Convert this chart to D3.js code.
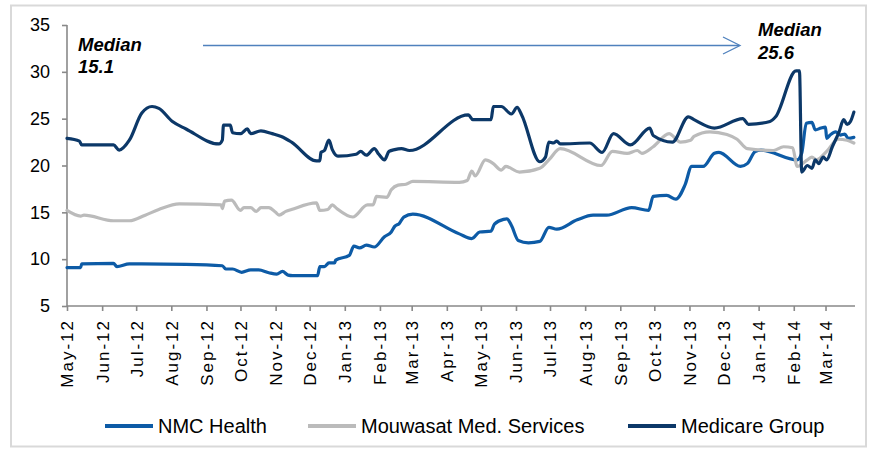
<!DOCTYPE html>
<html lang="en">
<head>
<meta charset="UTF-8">
<title>P/E multiples</title>
<script src="https://d3js.org/d3.v7.min.js"></script>
<style>
    body { margin: 0; background: #fff; }
    svg { font-family: "Liberation Sans", Arial, sans-serif; }
    .axis path, .axis line { stroke: #898989; stroke-width: 1.6px; }
    .axis text { fill: #000; }
    .series { fill: none; stroke-width: 3.2px; stroke-linejoin: round; stroke-linecap: round; }
    .note { font-weight: bold; font-style: italic; font-size: 18.5px; }
</style>
</head>
<body>
<svg id="chart" width="870" height="451"></svg>
<script>
    // values (date, multiple)
    const nmcHealth = [
        ["2012-05-01", 9.1], ["2012-05-13", 9.1], ["2012-05-14", 9.5], ["2012-06-11", 9.55], ["2012-06-14", 9.2],
        ["2012-06-25", 9.5], ["2012-08-14", 9.45], ["2012-09-15", 9.3], ["2012-09-18", 8.95], ["2012-09-24", 8.95],
        ["2012-10-02", 8.6], ["2012-10-10", 8.85], ["2012-10-17", 8.85], ["2012-10-26", 8.55], ["2012-11-02", 8.4],
        ["2012-11-07", 8.7], ["2012-11-12", 8.3], ["2012-11-16", 8.25], ["2012-12-08", 8.25], ["2012-12-10", 9.2],
        ["2012-12-14", 9.2], ["2012-12-18", 9.6], ["2012-12-23", 9.6], ["2012-12-24", 9.9], ["2013-01-05", 10.4],
        ["2013-01-09", 11.4], ["2013-01-14", 11.2], ["2013-01-20", 11.5], ["2013-01-27", 11.3], ["2013-02-05", 12.4],
        ["2013-02-11", 12.9], ["2013-02-14", 13.5], ["2013-02-18", 13.8], ["2013-02-22", 14.5], ["2013-03-02", 14.8],
        ["2013-04-12", 12.7], ["2013-04-23", 12.2], ["2013-04-30", 12.9], ["2013-05-10", 13.0], ["2013-05-13", 13.75],
        ["2013-05-21", 14.25], ["2013-05-24", 14.3], ["2013-05-28", 13.6], ["2013-06-03", 12.0], ["2013-06-12", 11.75],
        ["2013-06-22", 11.9], ["2013-06-30", 13.4], ["2013-07-07", 13.2], ["2013-07-25", 14.2], ["2013-08-08", 14.7],
        ["2013-08-20", 14.7], ["2013-09-11", 15.5], ["2013-09-26", 15.2], ["2013-09-30", 16.7], ["2013-10-12", 16.8],
        ["2013-10-20", 16.4], ["2013-10-28", 17.9], ["2013-11-03", 19.9], ["2013-11-13", 19.9], ["2013-11-23", 21.3],
        ["2013-11-27", 21.4], ["2013-12-16", 19.9], ["2013-12-22", 20.2], ["2013-12-29", 21.5], ["2014-01-03", 21.65],
        ["2014-02-04", 20.6], ["2014-02-08", 21.3], ["2014-02-12", 24.5], ["2014-02-17", 24.6], ["2014-02-20", 23.8],
        ["2014-02-25", 24.0], ["2014-03-01", 24.1], ["2014-03-02", 22.9], ["2014-03-05", 23.25], ["2014-03-10", 23.6],
        ["2014-03-14", 23.25], ["2014-03-18", 23.35], ["2014-03-21", 22.9], ["2014-03-26", 23.0]
    ];

    const mouwasat = [
        ["2012-05-01", 15.2], ["2012-05-13", 14.6], ["2012-05-16", 14.7], ["2012-06-11", 14.1], ["2012-06-25", 14.1],
        ["2012-07-09", 14.7], ["2012-07-21", 15.3], ["2012-08-08", 15.9], ["2012-09-14", 15.8], ["2012-09-15", 15.4],
        ["2012-09-17", 16.2], ["2012-09-23", 16.3], ["2012-10-01", 15.2], ["2012-10-04", 15.5], ["2012-10-10", 15.5],
        ["2012-10-15", 15.1], ["2012-10-19", 15.5], ["2012-10-26", 15.5], ["2012-11-01", 15.0], ["2012-11-04", 14.7],
        ["2012-11-10", 15.1], ["2012-11-15", 15.3], ["2012-12-07", 16.0], ["2012-12-10", 15.2], ["2012-12-17", 15.3],
        ["2012-12-21", 15.8], ["2012-12-25", 15.4], ["2013-01-08", 14.5], ["2013-01-21", 15.8], ["2013-01-26", 15.8],
        ["2013-01-29", 16.7], ["2013-02-07", 16.6], ["2013-02-11", 17.4], ["2013-02-17", 17.9], ["2013-02-24", 18.0],
        ["2013-03-02", 18.3], ["2013-04-12", 18.2], ["2013-04-19", 18.4], ["2013-04-23", 19.4], ["2013-04-26", 18.9],
        ["2013-05-05", 20.6], ["2013-05-12", 20.2], ["2013-05-19", 19.5], ["2013-05-23", 19.9], ["2013-06-04", 19.3],
        ["2013-06-22", 19.7], ["2013-06-30", 20.6], ["2013-07-10", 21.8], ["2013-08-15", 20.0], ["2013-08-25", 21.5],
        ["2013-09-07", 21.3], ["2013-09-16", 21.6], ["2013-09-20", 21.3], ["2013-09-30", 22.0], ["2013-10-14", 23.4],
        ["2013-10-24", 22.5], ["2013-11-02", 22.7], ["2013-11-05", 23.1], ["2013-11-19", 23.6], ["2013-12-04", 23.3],
        ["2013-12-13", 22.8], ["2013-12-22", 21.8], ["2014-01-14", 21.6], ["2014-01-23", 22.0], ["2014-01-31", 21.9],
        ["2014-02-04", 19.9], ["2014-02-13", 20.6], ["2014-02-17", 20.9], ["2014-02-21", 20.6], ["2014-03-02", 21.5],
        ["2014-03-12", 22.8], ["2014-03-20", 22.7], ["2014-03-26", 22.4]
    ];

    const medicare = [
        ["2012-05-01", 22.9], ["2012-05-12", 22.6], ["2012-05-14", 22.2], ["2012-06-11", 22.2], ["2012-06-16", 21.65],
        ["2012-06-25", 22.7], ["2012-07-06", 25.6], ["2012-07-15", 26.3], ["2012-07-21", 26.1], ["2012-08-02", 24.7],
        ["2012-08-14", 23.9], ["2012-09-12", 22.3], ["2012-09-15", 22.7], ["2012-09-16", 24.3], ["2012-09-22", 24.3],
        ["2012-09-24", 23.5], ["2012-10-01", 23.4], ["2012-10-07", 23.9], ["2012-10-10", 23.4], ["2012-10-19", 23.7],
        ["2012-10-29", 23.4], ["2012-11-06", 23.1], ["2012-11-15", 22.5], ["2012-12-07", 20.5], ["2012-12-10", 20.5],
        ["2012-12-11", 21.4], ["2012-12-14", 21.6], ["2012-12-18", 22.7], ["2012-12-21", 21.7], ["2012-12-26", 21.0],
        ["2013-01-11", 21.2], ["2013-01-15", 21.5], ["2013-01-20", 21.1], ["2013-01-27", 21.8], ["2013-01-31", 21.2],
        ["2013-02-05", 20.6], ["2013-02-09", 21.5], ["2013-02-14", 21.7], ["2013-02-20", 21.8], ["2013-02-27", 21.6],
        ["2013-04-20", 25.4], ["2013-04-24", 24.9], ["2013-05-10", 24.9], ["2013-05-12", 26.3], ["2013-05-19", 26.3],
        ["2013-05-28", 25.5], ["2013-06-02", 26.2], ["2013-06-06", 25.4], ["2013-06-22", 20.4], ["2013-06-27", 20.9],
        ["2013-06-30", 22.5], ["2013-07-04", 22.4], ["2013-07-07", 22.6], ["2013-07-10", 22.3], ["2013-08-05", 22.4],
        ["2013-08-16", 21.4], ["2013-08-26", 23.4], ["2013-09-10", 22.2], ["2013-09-27", 24.0], ["2013-09-30", 23.2],
        ["2013-10-17", 22.5], ["2013-10-31", 25.2], ["2013-11-05", 24.9], ["2013-11-23", 24.0], ["2013-12-18", 25.0],
        ["2013-12-23", 24.4], ["2014-01-11", 24.7], ["2014-01-16", 25.2], ["2014-02-03", 30.1], ["2014-02-06", 30.1],
        ["2014-02-08", 19.3], ["2014-02-13", 20.0], ["2014-02-17", 19.7], ["2014-02-20", 20.6], ["2014-02-23", 20.2],
        ["2014-02-27", 20.9], ["2014-03-02", 20.6], ["2014-03-07", 22.0], ["2014-03-13", 23.6], ["2014-03-17", 24.9],
        ["2014-03-20", 24.4], ["2014-03-23", 24.7], ["2014-03-26", 25.7]
    ];

    const seriesNames = ["NMC Health", "Mouwasat Med. Services", "Medicare Group"];
    const seriesColors = ["#0d5ba6", "#bbbbbb", "#0c3868"];
    const yTicks = [5, 10, 15, 20, 25, 30, 35];
    const xStart = "2012-05-01", xEnd = "2014-03-27";
    const medianLabels = ["15.1", "25.6"];

    const svg = d3.select("#chart");
    const parse = d3.timeParse("%Y-%m-%d");
    const plot = { left: 67, right: 855, top: 25, bottom: 306 };

    // light frame round the whole chart
    svg.append("rect")
        .attr("x", 11).attr("y", 5.5)
        .attr("width", 855).attr("height", 441)
        .attr("fill", "none")
        .attr("stroke", "#d9d9d9")
        .attr("stroke-width", 2);

    const x = d3.scaleTime()
        .domain([parse(xStart), parse(xEnd)])
        .range([plot.left, plot.right]);
    const y = d3.scaleLinear()
        .domain([5, 35])
        .range([plot.bottom, plot.top]);

    let yAxis = d3.axisLeft(y).tickValues(yTicks).tickSize(5).tickPadding(12);
    svg.append("g")
        .attr("class", "axis")
        .attr("transform", `translate(${plot.left},0)`)
        .call(yAxis)
        .call(g => g.selectAll("text").attr("font-size", "18px"))
        .call(g => g.select(".domain").attr("d", `M0,${plot.top}V${plot.bottom}`));

    let xAxis = d3.axisBottom(x)
        .ticks(d3.timeMonth.every(1))
        .tickFormat(d3.timeFormat("%b-%y"))
        .tickSize(5);
    svg.append("g")
        .attr("class", "axis")
        .attr("transform", `translate(0,${plot.bottom})`)
        .call(xAxis)
        .call(g => g.select(".domain").attr("d", `M${plot.left},0H${plot.right}`))
        .call(g => g.selectAll("text")
            .attr("font-size", "17px")
            .attr("letter-spacing", "2px")
            .attr("text-anchor", "end")
            .attr("transform", "rotate(-90)")
            .attr("x", -13)
            .attr("y", 0)
            .attr("dy", "0.35em"));

    const line = d3.line()
        .x(d => x(parse(d[0])))
        .y(d => y(d[1]))
        .curve(d3.curveMonotoneX);

    [nmcHealth, mouwasat, medicare].forEach((s, i) => {
        svg.append("path")
            .datum(s)
            .attr("class", "series")
            .attr("stroke", seriesColors[i])
            .attr("d", line);
    });

    // median notes and arrow
    svg.append("text").attr("class", "note").attr("x", 78).attr("y", 51).text("Median");
    svg.append("text").attr("class", "note").attr("x", 78).attr("y", 73).text(medianLabels[0]);
    svg.append("text").attr("class", "note").attr("x", 758).attr("y", 36).text("Median");
    svg.append("text").attr("class", "note").attr("x", 758).attr("y", 59).text(medianLabels[1]);

    svg.append("line")
        .attr("x1", 203).attr("y1", 45.5)
        .attr("x2", 739).attr("y2", 45.5)
        .attr("stroke", "#4f81bd").attr("stroke-width", 1.3);
    svg.append("path")
        .attr("d", "M723,37L740,45.5L723,54")
        .attr("fill", "none")
        .attr("stroke", "#4f81bd").attr("stroke-width", 1.3);

    // legend
    const legendX = [105, 308, 628];
    const legend = svg.append("g").attr("transform", "translate(0,426)");
    seriesNames.forEach((name, i) => {
        legend.append("line")
            .attr("x1", legendX[i]).attr("x2", legendX[i] + 48)
            .attr("y1", 0).attr("y2", 0)
            .attr("stroke", seriesColors[i])
            .attr("stroke-width", 4);
        legend.append("text")
            .attr("x", legendX[i] + 53)
            .attr("y", 0)
            .attr("dy", "0.36em")
            .attr("font-size", "20px")
            .text(name);
    });
</script>
</body>
</html>
